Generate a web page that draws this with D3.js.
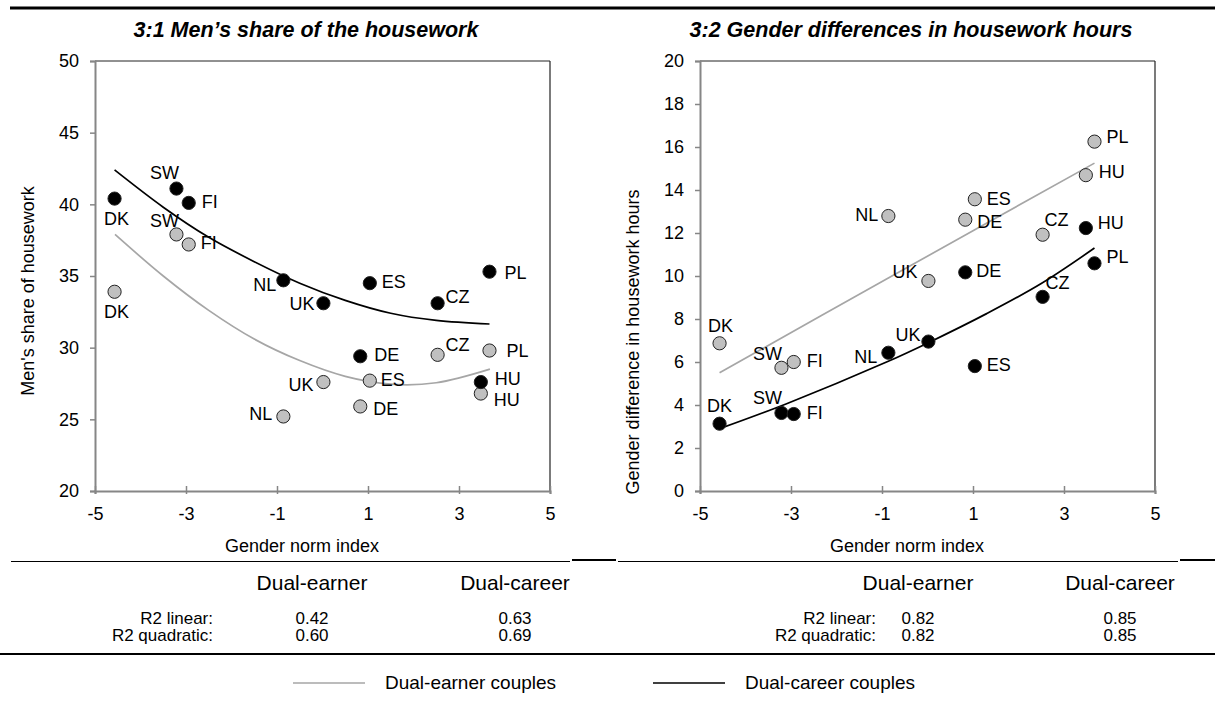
<!DOCTYPE html>
<html>
<head>
<meta charset="utf-8">
<script src="https://cdn.jsdelivr.net/npm/d3@7"></script>
<style>
  body { margin: 0; background: #fff; }
  text { font-family: 'Liberation Sans', Arial, sans-serif; fill: #000; }
</style>
</head>
<body>
<div id="chart"></div>
<script>
const WIDTH = 1215;
const HEIGHT = 704;

// data
const COUNTRIES = ["DK", "SW", "FI", "NL", "UK", "DE", "ES", "CZ", "HU", "PL"];
const NORM_INDEX = [-4.57, -3.21, -2.94, -0.86, 0.02, 0.83, 1.04, 2.53, 3.48, 3.67];

const SHARE_EARNER = [33.9, 37.9, 37.2, 25.2, 27.6, 25.9, 27.7, 29.5, 26.8, 29.8];
const SHARE_CAREER = [40.4, 41.1, 40.1, 34.7, 33.1, 29.4, 34.5, 33.1, 27.6, 35.3];
const HOURS_EARNER = [6.87, 5.73, 6.0, 12.79, 9.77, 12.62, 13.57, 11.92, 14.69, 16.25];
const HOURS_CAREER = [3.13, 3.63, 3.58, 6.43, 6.95, 10.17, 5.81, 9.03, 12.23, 10.59];

// fitted curves as drawn in the picture
const SHARE_EARNER_FIT_X = [-4.56, -3.5, -2.5, -1.5, -0.5, 0.5, 1.5, 2.5, 3.68];
const SHARE_EARNER_FIT_Y = [37.9, 35.0, 32.6, 30.6, 29.1, 28.0, 27.45, 27.55, 28.5];
const SHARE_CAREER_FIT_X = [-4.57, -3.5, -2.5, -1.5, -0.5, 0.5, 1.5, 2.5, 3.67];
const SHARE_CAREER_FIT_Y = [42.4, 39.8, 37.7, 36.0, 34.5, 33.3, 32.4, 31.9, 31.65];
const HOURS_EARNER_FIT_X = [-4.57, -0.9, 3.67];
const HOURS_EARNER_FIT_Y = [5.5, 9.86, 15.25];
const HOURS_CAREER_FIT_X = [-4.57, -3.11, -0.9, 0.02, 1.3, 2.5, 3.67];
const HOURS_CAREER_FIT_Y = [2.9, 4.05, 6.0, 6.9, 8.25, 9.65, 11.3];

const X_TICKS = [-5, -3, -1, 1, 3, 5];
const SHARE_TICKS = [20, 25, 30, 35, 40, 45, 50];
const HOURS_TICKS = [0, 2, 4, 6, 8, 10, 12, 14, 16, 18, 20];

const TABLE_COLS = ["Dual-earner", "Dual-career"];
const TABLE_ROWS = ["R2 linear:", "R2 quadratic:"];
const R2_SHARE = [["0.42", "0.63"], ["0.60", "0.69"]];
const R2_HOURS = [["0.82", "0.85"], ["0.82", "0.85"]];
const LEGEND = ["Dual-earner couples", "Dual-career couples"];

// label placement [dx, dy, anchor] per country
const LBL_SHARE_EARNER = {
  DK: [2, 21, "middle"], SW: [-12, -12, "middle"], FI: [12, 0, "start"], NL: [-11, -1, "end"],
  UK: [-10, 4, "end"], DE: [13, 4, "start"], ES: [11, 1, "start"], CZ: [8, -9, "start"],
  HU: [13, 8, "start"], PL: [17, 2, "start"]
};
const LBL_SHARE_CAREER = {
  DK: [2, 22, "middle"], SW: [-12, -14, "middle"], FI: [13, 0, "start"], NL: [-7, 6, "end"],
  UK: [-9, 2, "end"], DE: [14, 0, "start"], ES: [12, 0, "start"], CZ: [8, -5, "start"],
  HU: [14, -2, "start"], PL: [15, 3, "start"]
};
const LBL_HOURS_EARNER = {
  DK: [1, -16, "middle"], SW: [-14, -13, "middle"], FI: [13, 0, "start"], NL: [-10, 0, "end"],
  UK: [-11, -8, "end"], DE: [12, 4, "start"], ES: [12, 1, "start"], CZ: [2, -13, "start"],
  HU: [13, -2, "start"], PL: [12, -3, "start"]
};
const LBL_HOURS_CAREER = {
  DK: [0, -16, "middle"], SW: [-14, -14, "middle"], FI: [13, 0, "start"], NL: [-11, 5, "end"],
  UK: [-8, -5, "end"], DE: [11, 0, "start"], ES: [12, 0, "start"], CZ: [3, -13, "start"],
  HU: [12, -4, "start"], PL: [12, -5, "start"]
};

const EARNER_FILL = "#c0c0c0";
const EARNER_LINE = "#a6a6a6";
const AXIS_COLOR = "#868686";
const PLOT = { left: 95, right: 550, top: 61, bottom: 491 };

const svg = d3.select("#chart")
  .append("svg")
  .attr("width", WIDTH)
  .attr("height", HEIGHT);

// rules round the figure
svg.append("line").attr("x1", 10).attr("x2", WIDTH).attr("y1", 8).attr("y2", 8)
  .attr("stroke", "#000").attr("stroke-width", 3);
svg.append("line").attr("x1", 0).attr("x2", WIDTH).attr("y1", 654).attr("y2", 654)
  .attr("stroke", "#000").attr("stroke-width", 2);

function drawPanel(opts) {
  const g = svg.append("g").attr("transform", `translate(${opts.shift},0)`);

  const x = d3.scaleLinear().domain([-5, 5]).range([PLOT.left, PLOT.right]);
  const y = d3.scaleLinear().domain(opts.yDomain).range([PLOT.bottom, PLOT.top]);

  g.append("text")
    .attr("x", 306).attr("y", 31)
    .attr("dominant-baseline", "middle")
    .style("font-size", "21.5px").style("font-weight", "bold").style("font-style", "italic")
    .style("text-anchor", "middle")
    .text(opts.title);

  // frame: top and right dark, left and bottom gray axes
  g.append("line").attr("x1", PLOT.left).attr("x2", PLOT.right)
    .attr("y1", PLOT.top).attr("y2", PLOT.top).attr("stroke", "#222").attr("stroke-width", 1);
  g.append("line").attr("x1", PLOT.right).attr("x2", PLOT.right)
    .attr("y1", PLOT.top).attr("y2", PLOT.bottom).attr("stroke", "#222").attr("stroke-width", 1.2);

  const yAxis = d3.axisLeft(y).tickValues(opts.yTicks).tickSize(5).tickPadding(11)
    .tickFormat(d3.format("d"));
  const yg = g.append("g").attr("transform", `translate(${PLOT.left},0)`).call(yAxis);
  yg.select(".domain").attr("stroke", AXIS_COLOR).attr("stroke-width", 2);
  yg.selectAll(".tick line").attr("stroke", AXIS_COLOR).attr("stroke-width", 1.5);
  yg.selectAll(".tick text").style("font-size", "18px").style("font-family", "Liberation Sans, Arial");

  const xAxis = d3.axisBottom(x).tickValues(X_TICKS).tickSize(3).tickPadding(13)
    .tickFormat(function (d) { return String(d); });
  const xg = g.append("g").attr("transform", `translate(0,${PLOT.bottom})`).call(xAxis);
  xg.select(".domain").attr("stroke", AXIS_COLOR).attr("stroke-width", 2);
  xg.selectAll(".tick line").attr("y1", -5).attr("stroke", AXIS_COLOR).attr("stroke-width", 1.5);
  xg.selectAll(".tick text").style("font-size", "18px").style("font-family", "Liberation Sans, Arial");

  g.append("text")
    .attr("x", 302).attr("y", 547)
    .attr("dominant-baseline", "middle")
    .style("font-size", "18px").style("text-anchor", "middle")
    .text("Gender norm index");

  g.append("text")
    .attr("transform", `translate(29, ${opts.yTitleY}) rotate(-90)`)
    .attr("dominant-baseline", "middle")
    .style("font-size", "18px").style("text-anchor", "middle")
    .text(opts.yTitle);

  const line = d3.line()
    .x(function (d) { return x(d[0]); })
    .y(function (d) { return y(d[1]); })
    .curve(d3.curveCatmullRom.alpha(0.5));

  g.append("path")
    .datum(d3.zip(opts.earnerFitX, opts.earnerFitY))
    .attr("d", line)
    .attr("fill", "none").attr("stroke", EARNER_LINE).attr("stroke-width", 1.7);
  g.append("path")
    .datum(d3.zip(opts.careerFitX, opts.careerFitY))
    .attr("d", line)
    .attr("fill", "none").attr("stroke", "#000").attr("stroke-width", 1.7);

  const series = [
    { values: opts.earner, fill: EARNER_FILL, labels: opts.earnerLabels },
    { values: opts.career, fill: "#000", labels: opts.careerLabels }
  ];

  series.forEach(function (s) {
    const pts = COUNTRIES.map(function (c, i) {
      return { name: c, x: NORM_INDEX[i], y: s.values[i] };
    });
    g.append("g").selectAll("circle")
      .data(pts)
      .enter()
      .append("circle")
      .attr("cx", function (d) { return x(d.x); })
      .attr("cy", function (d) { return y(d.y); })
      .attr("r", 6.6)
      .attr("fill", s.fill)
      .attr("stroke", "#222")
      .attr("stroke-width", 1);
    g.append("g").selectAll("text")
      .data(pts)
      .enter()
      .append("text")
      .attr("x", function (d) { return x(d.x) + s.labels[d.name][0]; })
      .attr("y", function (d) { return y(d.y) + s.labels[d.name][1]; })
      .attr("dominant-baseline", "middle")
      .style("text-anchor", function (d) { return s.labels[d.name][2]; })
      .style("font-size", "18px")
      .text(function (d) { return d.name; });
  });

  // rule under the panel
  g.append("line").attr("x1", opts.rule[0]).attr("x2", opts.rule[1]).attr("y1", 561.5).attr("y2", 561.5)
    .attr("stroke", "#000").attr("stroke-width", 1);
  g.append("line").attr("x1", opts.rule[1] + 2).attr("x2", opts.rule[2]).attr("y1", 560).attr("y2", 560)
    .attr("stroke", "#000").attr("stroke-width", 2);

  // R2 table
  const colX = opts.tableX;
  TABLE_COLS.forEach(function (c, i) {
    g.append("text").attr("x", colX[i]).attr("y", 584)
      .attr("dominant-baseline", "middle")
      .style("font-size", "21px").style("text-anchor", "middle").text(c);
  });
  TABLE_ROWS.forEach(function (r, j) {
    const ry = 620 + j * 17;
    g.append("text")
      .attr("x", opts.rowLabelX).attr("y", ry)
      .attr("dominant-baseline", "middle")
      .style("font-size", "17px").style("text-anchor", "end").text(r);
    opts.r2[j].forEach(function (v, i) {
      g.append("text")
        .attr("x", colX[i]).attr("y", ry)
        .attr("dominant-baseline", "middle")
        .style("font-size", "17px").style("text-anchor", "middle").text(v);
    });
  });
}

drawPanel({
  shift: 0,
  title: "3:1 Men\u2019s share of the housework",
  yTitle: "Men's share of housework",
  yTitleY: 291,
  yDomain: [20, 50],
  yTicks: SHARE_TICKS,
  earner: SHARE_EARNER, career: SHARE_CAREER,
  earnerFitX: SHARE_EARNER_FIT_X, earnerFitY: SHARE_EARNER_FIT_Y,
  careerFitX: SHARE_CAREER_FIT_X, careerFitY: SHARE_CAREER_FIT_Y,
  earnerLabels: LBL_SHARE_EARNER, careerLabels: LBL_SHARE_CAREER,
  rule: [11, 570, 616],
  tableX: [312, 515],
  rowLabelX: 213,
  r2: R2_SHARE
});

drawPanel({
  shift: 605,
  title: "3:2 Gender differences in housework hours",
  yTitle: "Gender difference in housework hours",
  yTitleY: 342,
  yDomain: [0, 20],
  yTicks: HOURS_TICKS,
  earner: HOURS_EARNER, career: HOURS_CAREER,
  earnerFitX: HOURS_EARNER_FIT_X, earnerFitY: HOURS_EARNER_FIT_Y,
  careerFitX: HOURS_CAREER_FIT_X, careerFitY: HOURS_CAREER_FIT_Y,
  earnerLabels: LBL_HOURS_EARNER, careerLabels: LBL_HOURS_CAREER,
  rule: [13, 573, 610],
  tableX: [313, 515],
  rowLabelX: 271,
  r2: R2_HOURS
});

// legend
const legend = svg.append("g");
const legendItems = [
  { label: LEGEND[0], color: EARNER_LINE, x: 293 },
  { label: LEGEND[1], color: "#000", x: 653 }
];
legendItems.forEach(function (d) {
  legend.append("line").attr("x1", d.x).attr("x2", d.x + 72)
    .attr("y1", 683).attr("y2", 683)
    .attr("stroke", d.color).attr("stroke-width", 1.7);
  legend.append("text")
    .attr("x", d.x + 92).attr("y", 684)
    .attr("dominant-baseline", "middle")
    .style("font-size", "19px")
    .text(d.label);
});
</script>
</body>
</html>
